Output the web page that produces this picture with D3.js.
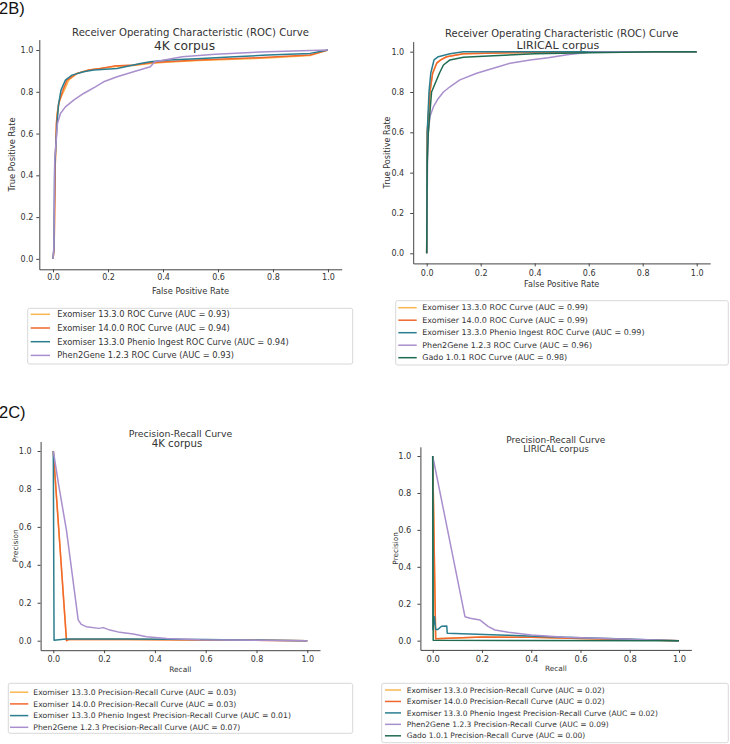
<!DOCTYPE html>
<html>
<head>
<meta charset="utf-8">
<script src="https://cdn.jsdelivr.net/npm/d3@7"></script>
<style>
  html, body { margin: 0; padding: 0; background: #fff; }
  svg { display: block; }
  text { font-family: "DejaVu Sans", sans-serif; fill: #333; }
</style>
</head>
<body>
<svg id="chart" width="730" height="744"></svg>
<script>
// ---------------- DATA ----------------
const seriesNames = ["Exomiser 13.3.0", "Exomiser 14.0.0", "Exomiser 13.3.0 Phenio Ingest", "Phen2Gene 1.2.3", "Gado 1.0.1"];
const seriesColors = ["#fbb652", "#f2672e", "#2b7e8f", "#a98fcd", "#1f6b50"];
const axisTicks = [0.0, 0.2, 0.4, 0.6, 0.8, 1.0];

const aucRoc4k = [0.93, 0.94, 0.94, 0.93];
const aucRocLirical = [0.99, 0.99, 0.99, 0.96, 0.98];
const aucPr4k = [0.03, 0.03, 0.01, 0.07];
const aucPrLirical = [0.02, 0.02, 0.02, 0.09, 0.00];

// ROC curves, 4K corpus  [fpr, tpr]
const roc4kExo1330 = [[0,0],[0.004,0.05],[0.008,0.45],[0.0145,0.696],[0.024,0.76],[0.041,0.808],[0.057,0.856],[0.087,0.888],[0.13,0.905],[0.172,0.912],[0.22,0.92],[0.293,0.926],[0.354,0.936],[0.41,0.942],[0.53,0.95],[0.78,0.962],[0.935,0.974],[1,1]];
const roc4kExo1400 = [[0,0],[0.004,0.05],[0.008,0.45],[0.012,0.65],[0.02,0.74],[0.036,0.808],[0.051,0.856],[0.087,0.888],[0.13,0.904],[0.172,0.912],[0.22,0.923],[0.293,0.928],[0.354,0.939],[0.41,0.944],[0.53,0.952],[0.78,0.965],[0.935,0.976],[1,1]];
const roc4kPhenio  = [[0,0],[0.003,0.05],[0.006,0.44],[0.0145,0.648],[0.02,0.74],[0.029,0.808],[0.045,0.856],[0.069,0.88],[0.111,0.896],[0.148,0.904],[0.233,0.912],[0.318,0.936],[0.354,0.944],[0.42,0.952],[0.54,0.96],[0.66,0.968],[0.78,0.976],[0.935,0.984],[1,1]];
const roc4kPhen2Gene = [[0,0],[0.003,0.05],[0.006,0.47],[0.016,0.648],[0.027,0.696],[0.045,0.728],[0.075,0.76],[0.111,0.792],[0.154,0.824],[0.184,0.848],[0.233,0.872],[0.293,0.896],[0.354,0.92],[0.37,0.944],[0.47,0.968],[0.59,0.98],[0.78,0.992],[1,1]];

// ROC curves, LIRICAL corpus
const rocLirExo1330 = [[0,0],[0.002,0.6],[0.012,0.8],[0.022,0.893],[0.037,0.943],[0.052,0.959],[0.074,0.975],[0.136,0.99],[0.3,0.995],[0.5,0.998],[1,1]];
const rocLirExo1400 = [[0,0],[0.002,0.6],[0.012,0.8],[0.022,0.893],[0.037,0.943],[0.052,0.959],[0.074,0.975],[0.136,0.99],[0.3,0.995],[0.5,0.998],[1,1]];
const rocLirPhenio  = [[0,0],[0.002,0.6],[0.0085,0.8],[0.015,0.893],[0.027,0.959],[0.043,0.975],[0.086,0.99],[0.136,1],[1,1]];
const rocLirPhen2Gene = [[0,0],[0.003,0.45],[0.006,0.6],[0.012,0.678],[0.025,0.727],[0.043,0.768],[0.062,0.8],[0.086,0.826],[0.123,0.86],[0.185,0.893],[0.247,0.918],[0.309,0.943],[0.383,0.959],[0.45,0.97],[0.52,0.985],[0.6,0.997],[0.7,1],[1,1]];
const rocLirGado = [[0,0],[0.002,0.45],[0.006,0.6],[0.018,0.8],[0.047,0.893],[0.062,0.934],[0.086,0.959],[0.136,0.972],[0.247,0.98],[0.4,0.99],[0.6,0.995],[0.85,1],[1,1]];

// Precision-recall curves, 4K corpus  [recall, precision]
const pr4kExo1330 = [[0,1],[0.052,0.0],[0.06,0.006],[0.3,0.006],[0.6,0.004],[1,0]];
const pr4kExo1400 = [[0,1],[0.052,0.0],[0.06,0.006],[0.3,0.006],[0.6,0.004],[1,0]];
const pr4kPhenio  = [[0,1],[0.003,0.002],[0.05,0.009],[0.3,0.009],[0.6,0.006],[1,0]];
const pr4kPhen2Gene = [[0,1],[0.02,0.83],[0.052,0.58],[0.098,0.11],[0.11,0.086],[0.13,0.074],[0.18,0.065],[0.197,0.069],[0.223,0.056],[0.262,0.044],[0.315,0.035],[0.367,0.021],[0.446,0.012],[0.577,0.005],[1,0]];

// Precision-recall curves, LIRICAL corpus
const prLirExo1330 = [[0,1],[0.012,0.01],[0.2,0.02],[0.4,0.018],[0.6,0.012],[1,0]];
const prLirExo1400 = [[0,1],[0.012,0.01],[0.2,0.02],[0.4,0.018],[0.6,0.012],[1,0]];
const prLirPhenio  = [[0,1],[0.001,0.06],[0.007,0.13],[0.012,0.06],[0.02,0.06],[0.036,0.078],[0.057,0.08],[0.059,0.04],[0.15,0.036],[0.3,0.03],[0.5,0.02],[0.75,0.01],[1,0]];
const prLirPhen2Gene = [[0,1],[0.131,0.13],[0.152,0.121],[0.192,0.112],[0.2,0.103],[0.226,0.076],[0.253,0.058],[0.307,0.045],[0.4,0.031],[0.537,0.018],[1,0]];
const prLirGado = [[0,1],[0.002,0.002],[1,0]];

// ---------------- LAYOUT ----------------
const panels = [
  { curves: [roc4kExo1330, roc4kExo1400, roc4kPhenio, roc4kPhen2Gene], auc: aucRoc4k, kind: "ROC Curve",
    title: "Receiver Operating Characteristic (ROC) Curve", sub: "4K corpus",
    xr: [39.3, 341.7], yr: [269.3, 39.6], titleX: 190.5, titleY: 35.5, titleFs: 10.1, subX: 184.5, subY: 49.5, subFs: 12.3,
    tickFs: 8, xPad: 2.5, yGap: 3, xlab: "False Positive Rate", ylab: "True Positive Rate", xlabY: 294, ylabX: 15, labFs: 8.3,
    leg: { x0: 27.7, y0: 308.3, x1: 352.7, y1: 364, row0: 314.3, step: 13.7, l0: 30.7, l1: 50, tx: 57.3, fs: 8.3 } },
  { curves: [rocLirExo1330, rocLirExo1400, rocLirPhenio, rocLirPhen2Gene, rocLirGado], auc: aucRocLirical, kind: "ROC Curve",
    title: "Receiver Operating Characteristic (ROC) Curve", sub: "LIRICAL corpus",
    xr: [413.2, 710.2], yr: [263.4, 41.6], titleX: 561.7, titleY: 37, titleFs: 9.95, subX: 558, subY: 48.5, subFs: 11.1,
    tickFs: 8, xPad: 3.5, yGap: 6, xlab: "False Positive Rate", ylab: "True Positive Rate", xlabY: 287, ylabX: 390, labFs: 8.1,
    leg: { x0: 395.7, y0: 300.7, x1: 728.3, y1: 365, row0: 307.7, step: 12.5, l0: 398.3, l1: 416.7, tx: 422.3, fs: 7.97 } },
  { curves: [pr4kExo1330, pr4kExo1400, pr4kPhenio, pr4kPhen2Gene], auc: aucPr4k, kind: "Precision-Recall Curve",
    title: "Precision-Recall Curve", sub: "4K corpus",
    xr: [40.6, 320], yr: [650.2, 441.5], titleX: 180.5, titleY: 436.5, titleFs: 9.35, subX: 177, subY: 447, subFs: 10.2,
    tickFs: 8, xPad: 3.5, yGap: 6, xlab: "Recall", ylab: "Precision", xlabY: 672, ylabX: 18, labFs: 7.4,
    leg: { x0: 8.3, y0: 683.3, x1: 352.7, y1: 733.3, row0: 692.2, step: 11.7, l0: 10, l1: 28.3, tx: 33.3, fs: 7.7 } },
  { curves: [prLirExo1330, prLirExo1400, prLirPhenio, prLirPhen2Gene, prLirGado], auc: aucPrLirical, kind: "Precision-Recall Curve",
    title: "Precision-Recall Curve", sub: "LIRICAL corpus",
    xr: [420.4, 691.3], yr: [649.9, 446.8], titleX: 555.8, titleY: 442.5, titleFs: 8.96, subX: 556, subY: 452.3, subFs: 8.8,
    tickFs: 8.3, xPad: 3, yGap: 6, xlab: "Recall", ylab: "Precision", xlabY: 671, ylabX: 398, labFs: 7.3,
    leg: { x0: 381.7, y0: 683.3, x1: 728.3, y1: 742.7, row0: 690, step: 11.45, l0: 385, l1: 401, tx: 406.7, fs: 7.5 } }
];

// ---------------- DRAW ----------------
const svg = d3.select("#chart");
svg.append("rect").attr("width", 730).attr("height", 744).attr("fill", "#fff");

svg.append("text").attr("x", -1).attr("y", 13.5).style("font-family", "'Liberation Sans', Arial, sans-serif")
  .style("font-size", "16.5px").style("fill", "#111").text("2B)");
svg.append("text").attr("x", -1).attr("y", 417.5).style("font-family", "'Liberation Sans', Arial, sans-serif")
  .style("font-size", "16.5px").style("fill", "#111").text("2C)");

panels.forEach(p => {
  const x = d3.scaleLinear().domain([-0.05, 1.05]).range(p.xr);
  const y = d3.scaleLinear().domain([-0.05, 1.05]).range(p.yr);
  const g = svg.append("g");

  // axes
  const xAxis = d3.axisBottom(x).tickValues(axisTicks).tickFormat(d3.format(".1f")).tickSize(3).tickSizeOuter(0).tickPadding(p.xPad);
  const yAxis = d3.axisLeft(y).tickValues(axisTicks).tickFormat(d3.format(".1f")).tickSize(3).tickSizeOuter(0).tickPadding(p.yGap);
  const gx = g.append("g").attr("transform", `translate(0,${p.yr[0]})`).call(xAxis);
  const gy = g.append("g").attr("transform", `translate(${p.xr[0]},0)`).call(yAxis);
  [gx, gy].forEach(a => {
    a.select(".domain").attr("stroke", "#444").attr("stroke-width", 1);
    a.selectAll(".tick line").attr("stroke", "#444");
    a.selectAll(".tick text").style("font-size", p.tickFs + "px").style("font-family", "'DejaVu Sans', sans-serif").attr("fill", "#333");
  });

  // curves
  const line = d3.line().x(d => x(d[0])).y(d => y(d[1]));
  p.curves.forEach((c, i) => {
    g.append("path").datum(c).attr("d", line).attr("fill", "none")
      .attr("stroke", seriesColors[i]).attr("stroke-width", 1.5).attr("stroke-linejoin", "round");
  });

  // titles
  g.append("text").attr("x", p.titleX).attr("y", p.titleY).attr("text-anchor", "middle")
    .style("font-size", p.titleFs + "px").text(p.title);
  g.append("text").attr("x", p.subX).attr("y", p.subY).attr("text-anchor", "middle")
    .style("font-size", p.subFs + "px").text(p.sub);

  // axis labels
  g.append("text").attr("x", (p.xr[0] + p.xr[1]) / 2).attr("y", p.xlabY).attr("text-anchor", "middle")
    .style("font-size", p.labFs + "px").text(p.xlab);
  g.append("text").attr("transform", `translate(${p.ylabX},${(p.yr[0] + p.yr[1]) / 2}) rotate(-90)`).attr("text-anchor", "middle")
    .style("font-size", p.labFs + "px").text(p.ylab);

  // legend
  const L = p.leg;
  g.append("rect").attr("x", L.x0).attr("y", L.y0).attr("width", L.x1 - L.x0).attr("height", L.y1 - L.y0)
    .attr("rx", 2).attr("fill", "#fff").attr("stroke", "#d8d8d8").attr("stroke-width", 1);
  p.auc.forEach((a, i) => {
    const ry = L.row0 + i * L.step;
    g.append("line").attr("x1", L.l0).attr("x2", L.l1).attr("y1", ry).attr("y2", ry)
      .attr("stroke", seriesColors[i]).attr("stroke-width", 1.5);
    g.append("text").attr("x", L.tx).attr("y", ry).attr("dy", "0.35em").style("font-size", L.fs + "px")
      .text(`${seriesNames[i]} ${p.kind} (AUC = ${a.toFixed(2)})`);
  });
});
</script>
</body>
</html>
